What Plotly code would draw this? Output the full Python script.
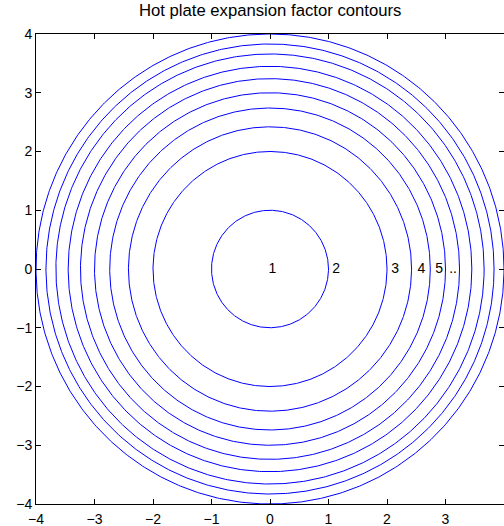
import numpy as np
import plotly.graph_objects as go

# contour radii
radii = [1.0, 2.0, 2.42, 2.74, 3.0, 3.24, 3.45, 3.66, 3.83, 4.0]
# contour labels along y=0
label_x = [0.04, 1.13, 2.14, 2.59, 2.89, 3.13]
label_text = ["1", "2", "3", "4", "5", ".."]
tick_vals = [-4, -3, -2, -1, 0, 1, 2, 3, 4]

FONT = "Liberation Sans, Arial, Helvetica"
theta = np.linspace(0, 2 * np.pi, 721)
fig = go.Figure()
for r in radii:
    fig.add_trace(go.Scatter(x=r * np.cos(theta), y=r * np.sin(theta), mode="lines",
                             line=dict(color="#0000ff", width=1), hoverinfo="skip",
                             showlegend=False))
fig.add_trace(go.Scatter(x=label_x, y=[0] * len(label_x), mode="text", text=label_text,
                         textfont=dict(size=14, color="black", family=FONT),
                         textposition="middle center", showlegend=False, hoverinfo="skip"))

axis = dict(range=[-4, 4], tickvals=tick_vals, ticks="inside", ticklen=5, tickcolor="black",
            showline=True, linecolor="black", linewidth=1, mirror="ticks", showgrid=False,
            zeroline=False, tickfont=dict(size=14, color="black", family=FONT))
fig.update_layout(
    width=504, height=526,
    margin=dict(l=36, r=0, t=34, b=22),
    paper_bgcolor="white", plot_bgcolor="white",
    title=dict(text="Hot plate expansion factor contours", x=0.536, xanchor="center",
               y=0.981, yanchor="middle",
               font=dict(size=16.7, color="black", family=FONT)),
    xaxis=dict(axis, ticklabelstandoff=2), yaxis=axis,
)
fig.write_html("out.html", config={"displayModeBar": False},
               post_script="document.body.style.margin='0';document.body.style.overflow='hidden';")
